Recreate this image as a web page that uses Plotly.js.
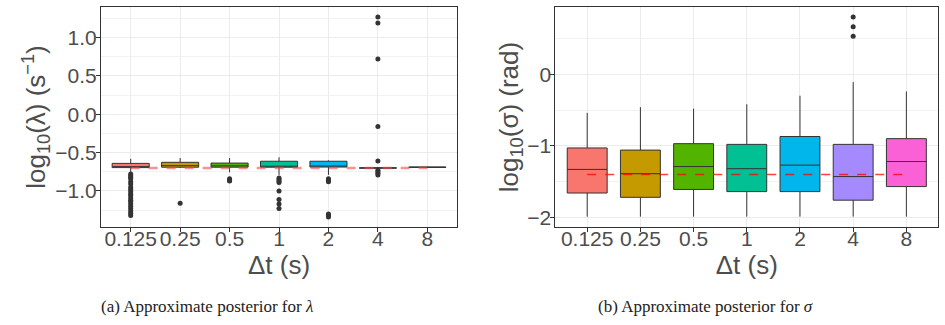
<!DOCTYPE html>
<html>
<head>
<meta charset="utf-8">
<script src="https://cdn.plot.ly/plotly-3.0.1.min.js"></script>
<style>html,body{margin:0;padding:0;background:#fff;}#chart{width:945px;height:325px;}</style>
</head>
<body>
<div id="chart"></div>
<script>
// Categories (Δt in seconds)
const categories = ['0.125', '0.25', '0.5', '1', '2', '4', '8'];
const boxColors = ['#F8766D', '#C49A00', '#53B400', '#00C094', '#00B6EB', '#A58AFF', '#FB61D7'];

// Panel (a): log10(lambda) box statistics
const lambdaQ1     = [-0.695, -0.690, -0.690, -0.690, -0.688, -0.702, -0.692];
const lambdaMedian = [-0.688, -0.670, -0.672, -0.680, -0.675, -0.700, -0.690];
const lambdaQ3     = [-0.640, -0.626, -0.636, -0.612, -0.612, -0.698, -0.688];
const lambdaLower  = [-0.760, -0.700, -0.756, -0.790, -0.790, -0.710, -0.695];
const lambdaUpper  = [-0.580, -0.570, -0.570, -0.560, -0.600, -0.690, -0.685];
// Panel (a) outliers
const lambdaOutX = ['0.125','0.125','0.125','0.125','0.125','0.125','0.125','0.125','0.125','0.125',
                    '0.125','0.125','0.125','0.125','0.125','0.125','0.125','0.125','0.125','0.125',
                    '0.25',
                    '0.5','0.5','0.5',
                    '1','1','1','1','1','1','1','1',
                    '2','2','2','2','2','2',
                    '4','4','4','4','4','4','4','4','4'];
const lambdaOutY = [-0.78,-0.80,-0.82,-0.84,-0.88,-0.91,-0.95,-0.98,-1.01,-1.04,
                    -1.06,-1.09,-1.12,-1.14,-1.17,-1.20,-1.23,-1.26,-1.29,-1.32,
                    -1.16,
                    -0.84,-0.86,-0.87,
                    -0.83,-0.85,-0.87,-0.89,-1.00,-1.11,-1.17,-1.23,
                    -0.84,-0.86,-0.88,-1.30,-1.32,-1.34,
                    1.27,1.19,0.72,-0.16,-0.61,-0.73,-0.75,-0.77,-0.79];
const lambdaTrue = -0.699;

// Panel (b): log10(sigma) box statistics
const sigmaQ1     = [-1.66, -1.72, -1.61, -1.64, -1.64, -1.76, -1.57];
const sigmaMedian = [-1.33, -1.39, -1.29, -1.32, -1.27, -1.43, -1.22];
const sigmaQ3     = [-1.03, -1.06, -0.97, -0.98, -0.87, -0.98, -0.90];
const sigmaLower  = [-1.99, -1.99, -1.99, -1.99, -1.99, -1.99, -1.99];
const sigmaUpper  = [-0.54, -0.46, -0.48, -0.42, -0.30, -0.11, -0.24];
const sigmaOutX = ['4', '4', '4'];
const sigmaOutY = [0.80, 0.665, 0.53];
const sigmaTrue = -1.40;

const textGray = '#4D4D4D';
const traces = [];
function addBoxes(q1, med, q3, lo, hi, xa, ya) {
  categories.forEach((c, i) => {
    traces.push({
      type: 'box', x: [c], q1: [q1[i]], median: [med[i]], q3: [q3[i]],
      lowerfence: [lo[i]], upperfence: [hi[i]],
      width: 0.75, whiskerwidth: 0, boxpoints: false,
      fillcolor: boxColors[i], line: {color: '#333333', width: 1},
      xaxis: xa, yaxis: ya, showlegend: false, hoverinfo: 'skip'
    });
  });
}
addBoxes(lambdaQ1, lambdaMedian, lambdaQ3, lambdaLower, lambdaUpper, 'x', 'y');
traces.push({type: 'scatter', mode: 'markers', x: lambdaOutX, y: lambdaOutY,
  marker: {color: '#333333', size: 5}, xaxis: 'x', yaxis: 'y', showlegend: false});
traces.push({type: 'scatter', mode: 'lines', x: [categories[0], categories[6]], y: [lambdaTrue, lambdaTrue],
  line: {color: 'rgba(255,70,70,0.6)', width: 2.5, dash: 'dash'}, xaxis: 'x', yaxis: 'y', showlegend: false});

addBoxes(sigmaQ1, sigmaMedian, sigmaQ3, sigmaLower, sigmaUpper, 'x2', 'y2');
traces.push({type: 'scatter', mode: 'markers', x: sigmaOutX, y: sigmaOutY,
  marker: {color: '#333333', size: 5}, xaxis: 'x2', yaxis: 'y2', showlegend: false});
traces.push({type: 'scatter', mode: 'lines', x: [categories[0], categories[6]], y: [sigmaTrue, sigmaTrue],
  line: {color: 'rgba(255,0,0,0.75)', width: 1.5, dash: 'dash'}, xaxis: 'x2', yaxis: 'y2', showlegend: false});

const tickFont = {family: 'Liberation Sans, Arial, sans-serif', size: 21, color: textGray};
const titleFont = {family: 'Liberation Sans, Arial, sans-serif', size: 26, color: textGray};
const baseX = {
  type: 'category', categoryorder: 'array', categoryarray: categories,
  range: [-0.6, 6.6], showgrid: true, gridcolor: '#EBEBEB', gridwidth: 1,
  showline: true, mirror: true, linecolor: '#333333', linewidth: 1,
  ticks: 'outside', ticklen: 4, tickcolor: '#333333', tickfont: tickFont,
  tickangle: 0, ticklabelstandoff: -11,
  zeroline: false, automargin: false,
  title: {text: 'Δt (s)', font: titleFont, standoff: 0}
};
const baseY = {
  showgrid: true, gridcolor: '#EBEBEB', gridwidth: 1,
  showline: true, mirror: true, linecolor: '#333333', linewidth: 1,
  ticks: 'outside', ticklen: 4, tickcolor: '#333333', tickfont: tickFont,
  ticklabelstandoff: -5,
  zeroline: false, automargin: false
};

const layout = {
  width: 945, height: 325,
  margin: {l: 0, r: 0, t: 0, b: 0},
  paper_bgcolor: '#ffffff', plot_bgcolor: '#ffffff',
  boxmode: 'overlay', showlegend: false,
  xaxis: Object.assign({}, baseX, {domain: [0.1069, 0.4836], anchor: 'y'}),
  yaxis: Object.assign({}, baseY, {
    domain: [0.3015, 0.9785], anchor: 'x', range: [-1.47, 1.40],
    tickvals: [-1, -0.5, 0, 0.5, 1], tickformat: '.1f',
    minor: {dtick: 0.25, tick0: 0.25, showgrid: true, gridcolor: '#F2F2F2', gridwidth: 1},
    title: {text: 'log<sub>10</sub>(λ) (s<sup>−1</sup>)', font: titleFont, standoff: 2}
  }),
  xaxis2: Object.assign({}, baseX, {domain: [0.5876, 0.9929], anchor: 'y2'}),
  yaxis2: Object.assign({}, baseY, {
    domain: [0.3015, 0.9785], anchor: 'x2', range: [-2.135, 0.94],
    tickvals: [-2, -1, 0], tickformat: 'd',
    minor: {dtick: 0.5, tick0: 0.5, showgrid: true, gridcolor: '#F2F2F2', gridwidth: 1},
    title: {text: 'log<sub>10</sub>(σ) (rad)', font: titleFont, standoff: 0}
  }),
  annotations: [
    {text: '(a) Approximate posterior for <i>λ</i>', xref: 'paper', yref: 'paper',
     x: 207 / 945, y: 0.058, xanchor: 'center', yanchor: 'middle', showarrow: false,
     font: {family: 'Liberation Serif, Times New Roman, serif', size: 17, color: '#222222'}},
    {text: '(b) Approximate posterior for <i>σ</i>', xref: 'paper', yref: 'paper',
     x: 705 / 945, y: 0.058, xanchor: 'center', yanchor: 'middle', showarrow: false,
     font: {family: 'Liberation Serif, Times New Roman, serif', size: 17, color: '#222222'}}
  ]
};

Plotly.newPlot('chart', traces, layout, {staticPlot: true, displayModeBar: false});
</script>
</body>
</html>
